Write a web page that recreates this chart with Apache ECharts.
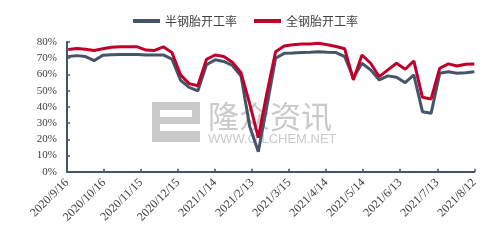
<!DOCTYPE html>
<html><head><meta charset="utf-8">
<script src="https://cdn.jsdelivr.net/npm/echarts@6/dist/echarts.min.js"></script>
<style>html,body{margin:0;padding:0;background:#fff}#c{width:491px;height:246px}</style>
</head><body><div id="c"></div>
<script>
var startDate = '2020-09-16';
var xTickLabels = ['2020/9/16','2020/10/16','2020/11/15','2020/12/15','2021/1/14','2021/2/13','2021/3/15','2021/4/14','2021/5/14','2021/6/13','2021/7/13','2021/8/12'];
var dates = ['2020-09-17','2020-09-24','2020-10-01','2020-10-08','2020-10-15','2020-10-22','2020-10-29','2020-11-05','2020-11-12','2020-11-19','2020-11-26','2020-12-03','2020-12-10','2020-12-17','2020-12-24','2020-12-31','2021-01-07','2021-01-14','2021-01-21','2021-01-28','2021-02-04','2021-02-11','2021-02-18','2021-02-25','2021-03-04','2021-03-11','2021-03-18','2021-03-25','2021-04-01','2021-04-08','2021-04-15','2021-04-22','2021-04-29','2021-05-06','2021-05-13','2021-05-20','2021-05-27','2021-06-03','2021-06-10','2021-06-17','2021-06-24','2021-07-01','2021-07-08','2021-07-15','2021-07-22','2021-07-29','2021-08-05','2021-08-12'];
var seriesNames = ['半钢胎开工率','全钢胎开工率'];
var semiSteel = [71,71.6,71,68.5,71.8,72.2,72.3,72.3,72.3,72,72,72,69.5,56.4,52,49.8,66,69,68,65.5,59,28,12.3,40.5,70,73,73.2,73.5,73.7,74,73.7,73.5,71,58,66.9,62.8,56.6,59.1,58.3,54.9,59.7,37,36,60.7,61.7,60.7,61.1,61.7];
var allSteel = [75.4,76,75.5,74.8,75.8,76.8,77,77,77,75,74.8,77,73.5,59.7,54.3,53,69.3,72,71,67.5,61,42,21,48.6,74,77.5,78.3,78.8,78.8,79.2,78.3,77.2,75.8,56.6,72,66.9,58.6,62.8,66.9,63.2,68.3,45.9,44.9,63.8,66.5,65.2,66.3,66.5];

function dayOffset(s){var a=s.split('-'),b=startDate.split('-');
  return Math.round((Date.UTC(+a[0],a[1]-1,+a[2])-Date.UTC(+b[0],b[1]-1,+b[2]))/86400000);}
function pairs(vals){return dates.map(function(d,i){return [dayOffset(d), vals[i]];});}

var axisColor = '#44546A';
var chart = echarts.init(document.getElementById('c'));
chart.setOption({
  animation:false,
  backgroundColor:'#fff',
  legend:{top:10,left:'center',icon:'rect',itemWidth:27,itemHeight:4,itemGap:17,
    textStyle:{fontSize:12,color:'#404040',fontFamily:'"Noto Sans CJK SC", sans-serif'},
    data:seriesNames},
  grid:{left:67,top:42,width:407.3,height:129.7,containLabel:false},
  xAxis:{type:'value',min:0,max:330,interval:30,
    axisLine:{lineStyle:{color:axisColor,width:2}},
    axisTick:{inside:true,length:3,lineStyle:{color:axisColor,width:1.5}},
    splitLine:{show:false},
    axisLabel:{rotate:45,margin:9,fontSize:12,color:'#404040',fontFamily:'"Liberation Serif","Times New Roman",serif',
      formatter:function(v){return xTickLabels[Math.round(v/30)]||'';}}},
  yAxis:{type:'value',min:0,max:80,interval:10,
    axisLine:{show:true,lineStyle:{color:axisColor,width:2}},
    axisTick:{show:true,inside:true,length:3,lineStyle:{color:axisColor,width:1.5}},
    splitLine:{show:false},
    axisLabel:{margin:10,fontSize:11,color:'#404040',fontFamily:'"Liberation Serif","Times New Roman",serif',
      formatter:'{value}%'}},
  graphic:[
    {type:'group',z:0,silent:true,children:[
      {type:'rect',shape:{x:152,y:102,width:48,height:40},style:{fill:'#cacaca'}},
      {type:'rect',shape:{x:160,y:110,width:32,height:7},style:{fill:'#fff'}},
      {type:'rect',shape:{x:160,y:124,width:40,height:7},style:{fill:'#fff'}},
      {type:'text',style:{text:'隆众资讯',x:208,y:116,verticalAlign:'middle',fontSize:31,fill:'#cacaca',fontFamily:'"Noto Sans CJK SC", sans-serif'}},
      {type:'text',style:{text:'WWW.OILCHEM.NET',x:208,y:139.5,verticalAlign:'middle',fontSize:13,fill:'#cacaca',fontFamily:'"Liberation Sans", Arial, sans-serif'}}
    ]}
  ],
  series:[
    {name:seriesNames[0],type:'line',data:pairs(semiSteel),symbol:'none',z:3,
      lineStyle:{color:'#44546A',width:3},itemStyle:{color:'#44546A'}},
    {name:seriesNames[1],type:'line',data:pairs(allSteel),symbol:'none',z:4,
      lineStyle:{color:'#C0002B',width:3},itemStyle:{color:'#C0002B'}}
  ]
});
</script></body></html>
